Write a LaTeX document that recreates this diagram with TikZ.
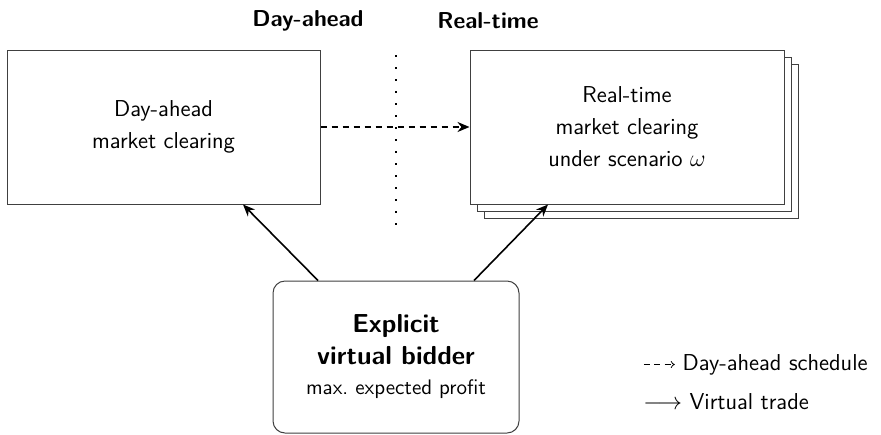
\documentclass[tikz,border=0pt]{standalone}
\renewcommand\familydefault{\sfdefault}
\usetikzlibrary{arrows.meta,calc}
\tikzset{
  mbox/.style={draw=black!75, line width=0.5pt, fill=white, align=center, inner sep=0pt,
    font=\fontsize{11.5}{16}\selectfont},
  vt/.style={-{Stealth[length=6pt,width=5pt]}, line width=0.8pt},
  das/.style={-{Stealth[length=6pt,width=5pt]}, line width=0.8pt, dash pattern=on 3pt off 2.5pt},
  head/.style={font=\bfseries\fontsize{11.5}{14}\selectfont},
  leg/.style={anchor=west, inner sep=0pt, font=\fontsize{11.5}{14}\selectfont},
}
\newcommand\dasharr{\tikz[baseline=-0.6ex]\draw[-{To[length=2pt,width=3.5pt]}, line width=0.4pt, dash pattern=on 3pt off 2.2pt] (0,0) -- (15.5pt,0);}
\begin{document}
\begin{tikzpicture}[x=0.5pt,y=-0.5pt]
\useasboundingbox (0,0) rectangle (881,434);
% top labels
\node[head] (hda) at (308,21) {Day-ahead};
\node[head] (hrt) at (488,21) {Real-time};
% dotted separator
\coordinate (s1) at (396,55);
\coordinate (s2) at (396,232);
\draw[line width=1pt, dash pattern=on 0.9pt off 5.1pt] (s1) -- (s2);
% day-ahead box
\node[mbox, minimum width=156.5pt, minimum height=77pt] (da) at (163.5,127) {Day-ahead\\market clearing};
% real-time stack
\node[mbox, minimum width=157pt, minimum height=77pt] (rt3) at (641,141) {};
\node[mbox, minimum width=157pt, minimum height=77pt] (rt2) at (634,134) {};
\node[mbox, minimum width=157pt, minimum height=77pt] (rt) at (627,127) {Real-time\\market clearing\\under scenario $\omega$};
% bidder
\node[mbox, rounded corners=6pt, minimum width=123pt, minimum height=76pt] (vb) at (396,357)
  {\bfseries\fontsize{13}{16.5}\selectfont Explicit\\\bfseries\fontsize{13}{16.5}\selectfont virtual bidder\\[-1pt]\fontsize{10.5}{16.5}\selectfont max.\ expected profit};
% connectors
\draw[das] (da.east) -- (rt.west);
\draw[vt] ($(vb.north)+(-78,0)$) -- ($(da.south)+(79.5,0)$);
\draw[vt] ($(vb.north)+(78,0)$) -- ($(rt.south)+(-79,0)$);
% legend
\node[leg] (l1) at (643,365) {\dasharr\ Day-ahead schedule};
\node[leg] (l2) at (643,402) {$\longrightarrow$ Virtual trade};
\end{tikzpicture}
\end{document}
